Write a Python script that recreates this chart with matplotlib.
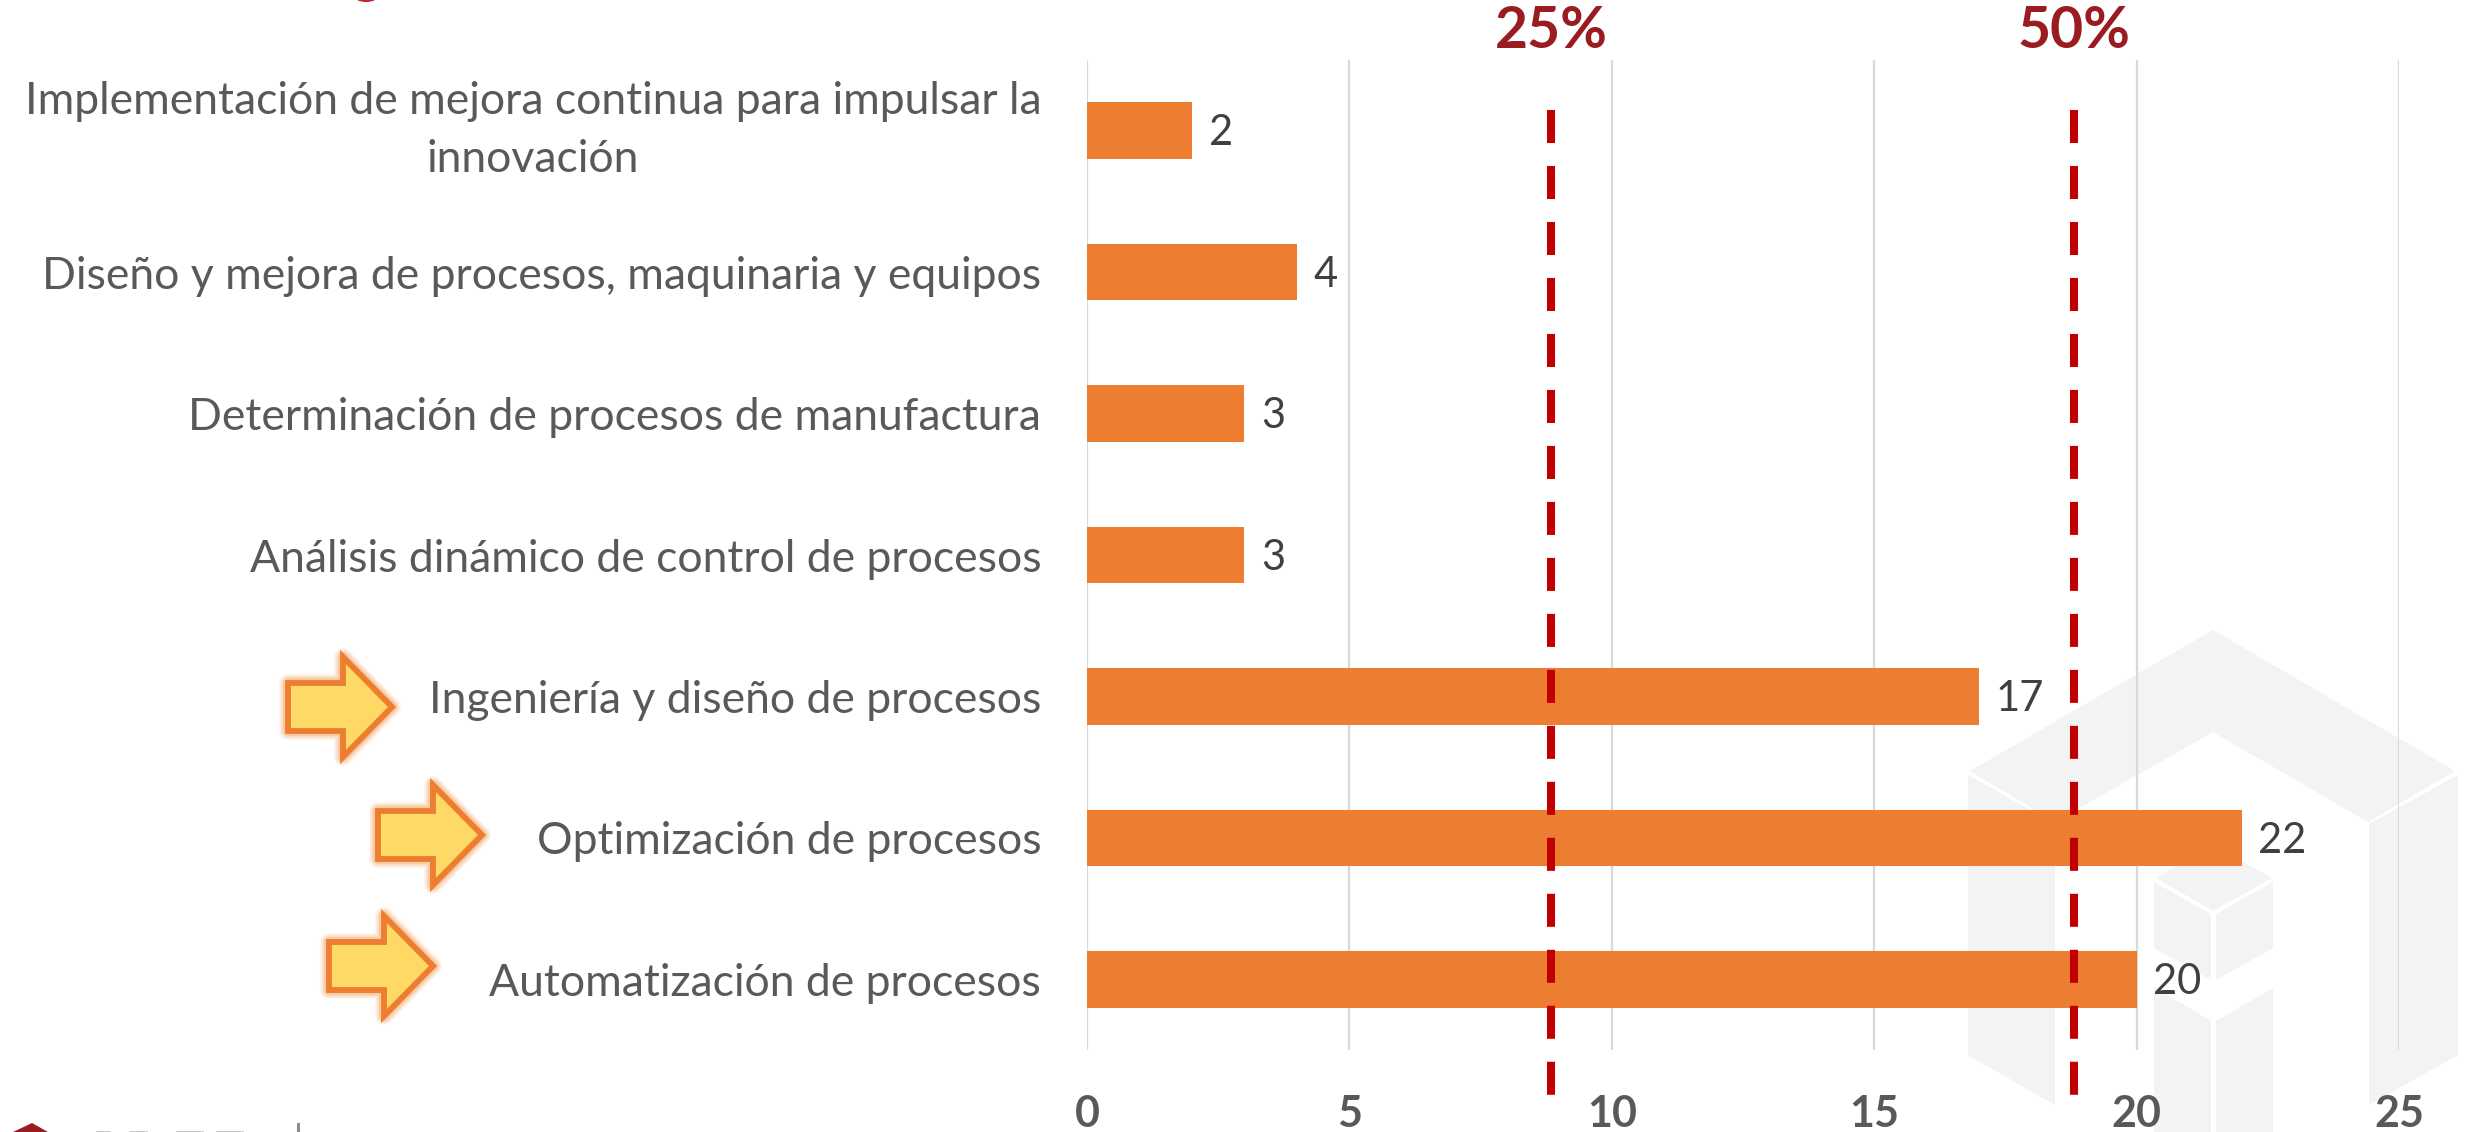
import matplotlib
matplotlib.use('Agg')
import matplotlib.pyplot as plt
from matplotlib.patches import Polygon, Ellipse

plt.rcParams['font.family'] = ['Lato', 'DejaVu Sans']

W, H = 2466, 1132

categorias = ['Automatización de procesos', 'Optimización de procesos',
              'Ingeniería y diseño de procesos', 'Análisis dinámico de control de procesos',
              'Determinación de procesos de manufactura',
              'Diseño y mejora de procesos, maquinaria y equipos',
              'Implementación de mejora continua para impulsar la\ninnovación']
valores = [20, 22, 17, 3, 3, 4, 2]
ticks_x = [0, 5, 10, 15, 20, 25]
cuartiles = [8.85, 18.8]
cuartil_labels = ['25%', '50%']

# formas de fondo (marca de agua) y flechas, en pixeles de la imagen
marca_agua = [
    [(2213, 630), (1970, 771), (2055, 822), (2213, 732), (2368, 822), (2455, 771)],
    [(1968, 775), (2055, 824), (2055, 1105), (1968, 1055)],
    [(2369, 824), (2458, 775), (2458, 1055), (2369, 1105)],
    [(2156, 878), (2213, 845), (2272, 878), (2213, 911)],
    [(2154, 882), (2211, 914), (2211, 980), (2154, 948)],
    [(2216, 914), (2273, 882), (2273, 948), (2216, 980)],
    [(2154, 987), (2211, 1021), (2211, 1132), (2154, 1132)],
    [(2216, 1021), (2273, 988), (2273, 1132), (2216, 1132)],
]
flechas = [(288, 707), (378, 835), (329, 966)]
logo_trazos = [(97, 110), (130, 147), (177, 203), (217, 243)]


def px(p):
    return (p[0] / W, 1 - p[1] / H)


def flecha(fig, x0, yc):
    forma = [(x0, yc - 24), (x0 + 55, yc - 24), (x0 + 55, yc - 50), (x0 + 104, yc),
             (x0 + 55, yc + 50), (x0 + 55, yc + 24), (x0, yc + 24)]
    puntos = [px(p) for p in forma]
    # halo suave alrededor
    for lw, a in [(13, 0.10), (11, 0.14), (9, 0.2), (7, 0.3)]:
        fig.add_artist(Polygon(puntos, closed=True, transform=fig.transFigure, fill=False,
                               edgecolor='#f4a460', lw=lw, alpha=a, joinstyle='round', zorder=5))
    fig.add_artist(Polygon(puntos, closed=True, transform=fig.transFigure, facecolor='#ffd966',
                           edgecolor='#ed7d31', lw=4.2, joinstyle='miter', zorder=6))


fig = plt.figure(figsize=(W / 100, H / 100), dpi=100, facecolor='white')

for forma in marca_agua:
    fig.add_artist(Polygon([px(p) for p in forma], closed=True, transform=fig.transFigure,
                           facecolor='#f3f3f3', edgecolor='none', zorder=0))

ax = fig.add_axes([1087 / W, 1 - 1050 / H, (2399 - 1087) / W, (1050 - 60) / H])
ax.patch.set_alpha(0)
ax.set_zorder(2)

ax.barh(categorias, valores, height=0.4, color='#ed7d31', zorder=3)
ax.set_xlim(0, 25)
ax.set_ylim(-0.5, 6.5)
ax.set_xticks(ticks_x)
ax.xaxis.grid(True, color='#d9d9d9', lw=1.6, zorder=1)
ax.yaxis.grid(False)
for s in ax.spines.values():
    s.set_visible(False)
ax.tick_params(axis='both', length=0)
ax.tick_params(axis='y', pad=33, labelsize=32, labelcolor='#595959')
ax.tick_params(axis='x', pad=32, labelsize=31, labelcolor='#595959')
for t in ax.get_xticklabels():
    t.set_fontweight('bold')
for t in ax.get_yticklabels():
    t.set_multialignment('center')
    t.set_linespacing(1.5)
ax.get_yticklabels()[-1].set_verticalalignment('center')

for i, v in enumerate(valores):
    ax.annotate(str(v), (v, i), xytext=(12, -2), textcoords='offset points', va='center',
                fontsize=30, color='#404040', zorder=4)

for c, lab in zip(cuartiles, cuartil_labels):
    x_fig = ax.transData.transform((c, 0))[0] / W
    # de arriba hacia abajo para que el primer trazo empiece en la parte superior
    fig.add_artist(plt.Line2D([x_fig, x_fig], [1 - 110 / H, 1 - 1096 / H], color='#c00000', lw=5.8,
                              dashes=(4.1, 2.85), dash_capstyle='butt', zorder=7))
    fig.text(x_fig, 1 - 31 / H, lab, color='#9b1c20', fontsize=41, fontweight='bold', ha='center',
             va='center', zorder=7)

for x0, yc in flechas:
    flecha(fig, x0, yc)

# restos recortados del titulo y del logo en los bordes
fig.add_artist(Ellipse(px((366, -4)), 24 / W, 12 / H, transform=fig.transFigure, facecolor='#c8202f',
                       edgecolor='none'))
fig.add_artist(Polygon([px((32, 1123)), px((13, 1132)), px((48, 1132))], closed=True,
                       transform=fig.transFigure, facecolor='#9b1c20', edgecolor='none'))
fig.add_artist(plt.Line2D([298 / W, 298 / W], [1 - 1124 / H, 0], color='#8c8c8c', lw=2.2))
for a, b in logo_trazos:
    fig.add_artist(plt.Line2D([a / W, b / W], [1 - 1131.5 / H, 1 - 1131.5 / H], color='#bdbdbd', lw=1.2))

plt.savefig('out.png', dpi=100)
